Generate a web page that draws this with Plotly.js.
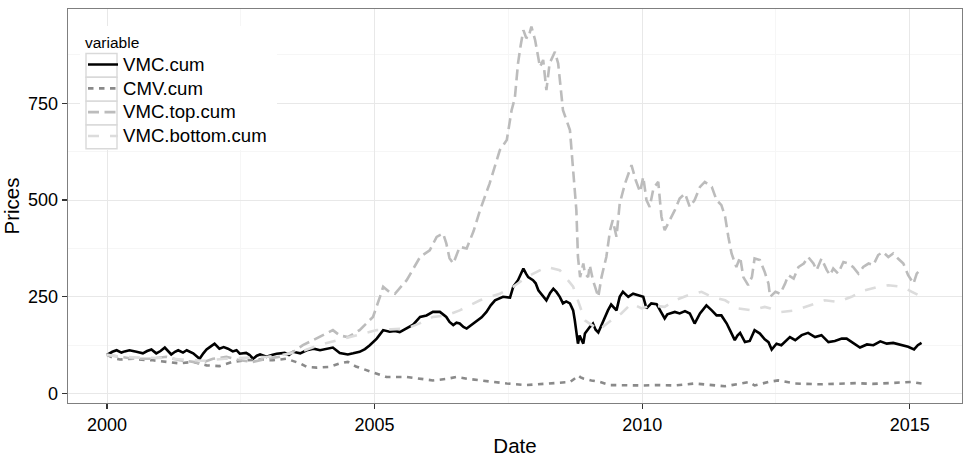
<!DOCTYPE html>
<html>
<head>
<meta charset="utf-8">
<script src="https://cdn.plot.ly/plotly-3.0.1.min.js"></script>
<style>html,body{margin:0;padding:0;background:#fff;}#chart{width:963px;height:457px;}</style>
</head>
<body>
<div id="chart"></div>
<script>
// ---- data (decimal years, cumulative price index) ----
const seriesNames = ["VMC.cum", "CMV.cum", "VMC.top.cum", "VMC.bottom.cum"];
const xTickVals = [2000, 2005, 2010, 2015];
const yTickVals = [0, 250, 500, 750];

const vmcYears = [2000.00,2000.10,2000.18,2000.27,2000.33,2000.42,2000.55,2000.67,2000.75,2000.83,2000.92,2001.00,2001.08,2001.20,2001.27,2001.33,2001.42,2001.49,2001.61,2001.73,2001.80,2001.86,2001.94,2002.01,2002.10,2002.18,2002.26,2002.35,2002.42,2002.48,2002.60,2002.66,2002.73,2002.80,2002.86,2002.98,2003.08,2003.17,2003.32,2003.40,2003.48,2003.61,2003.73,2003.86,2003.98,2004.10,2004.22,2004.35,2004.50,2004.60,2004.72,2004.82,2004.91,2005.04,2005.16,2005.28,2005.38,2005.47,2005.60,2005.72,2005.85,2005.97,2006.09,2006.22,2006.34,2006.40,2006.47,2006.53,2006.59,2006.66,2006.72,2006.80,2006.90,2007.00,2007.09,2007.17,2007.25,2007.33,2007.40,2007.53,2007.59,2007.68,2007.74,2007.78,2007.83,2007.87,2007.96,2008.01,2008.06,2008.15,2008.21,2008.28,2008.34,2008.40,2008.46,2008.52,2008.58,2008.65,2008.71,2008.74,2008.77,2008.80,2008.83,2008.86,2008.90,2008.93,2008.99,2009.02,2009.08,2009.13,2009.18,2009.23,2009.27,2009.36,2009.42,2009.47,2009.52,2009.58,2009.64,2009.70,2009.74,2009.83,2009.93,2010.02,2010.08,2010.17,2010.27,2010.33,2010.42,2010.47,2010.52,2010.61,2010.70,2010.80,2010.89,2010.98,2011.08,2011.20,2011.30,2011.39,2011.48,2011.58,2011.64,2011.73,2011.78,2011.83,2011.92,2012.01,2012.10,2012.20,2012.29,2012.36,2012.42,2012.51,2012.60,2012.70,2012.76,2012.86,2012.98,2013.10,2013.23,2013.35,2013.48,2013.60,2013.73,2013.82,2013.94,2014.07,2014.20,2014.32,2014.45,2014.57,2014.69,2014.85,2014.97,2015.08,2015.15,2015.22];
const vmcCum = [100,108,112,106,109,112,108,104,110,114,104,110,119,101,108,112,106,112,104,90,104,114,122,129,116,120,116,109,112,103,105,100,90,98,101,95,100,103,105,100,108,104,112,116,112,116,119,105,101,104,108,115,125,142,164,160,162,159,168,178,198,202,211,211,198,185,177,183,181,172,168,176,185,197,211,228,241,246,250,248,276,293,310,323,310,301,293,285,267,250,241,260,271,262,250,233,238,233,215,190,164,129,150,142,129,155,168,172,181,165,158,175,189,215,230,222,215,250,263,255,250,258,254,250,220,233,231,215,194,205,207,211,207,213,207,181,207,228,215,202,202,181,164,138,150,157,133,136,164,155,140,133,114,129,125,138,146,138,151,157,146,151,133,136,142,142,131,119,127,125,135,129,131,125,121,114,125,131];

const cmvYears = [2000.00,2000.12,2000.24,2000.49,2000.70,2000.86,2001.11,2001.36,2001.61,2001.86,2002.10,2002.35,2002.60,2002.86,2003.10,2003.35,2003.61,2003.73,2003.92,2004.16,2004.35,2004.50,2004.65,2004.85,2005.05,2005.22,2005.60,2005.85,2006.09,2006.35,2006.53,2006.75,2006.97,2007.20,2007.47,2007.84,2008.10,2008.34,2008.65,2008.75,2008.80,2008.85,2008.90,2009.05,2009.21,2009.40,2009.70,2010.00,2010.30,2010.60,2010.98,2011.30,2011.55,2011.80,2012.00,2012.10,2012.36,2012.54,2012.86,2013.35,2013.70,2014.00,2014.30,2014.60,2014.85,2015.04,2015.22];
const cmvCum = [100,92,88,90,87,86,82,78,82,73,71,82,86,88,86,90,78,69,67,69,78,82,70,60,50,43,43,38,34,38,43,38,34,30,26,22,24,26,30,40,47,42,39,34,30,22,21,21,22,21,26,22,19,25,30,21,30,34,26,24,26,27,25,27,28,30,26];

const topYears = [2000.00,2000.24,2000.49,2000.80,2001.11,2001.36,2001.61,2001.73,2001.98,2002.23,2002.48,2002.73,2002.98,2003.23,2003.48,2003.66,2003.85,2004.04,2004.22,2004.35,2004.50,2004.72,2004.97,2005.10,2005.16,2005.28,2005.38,2005.60,2005.85,2006.03,2006.16,2006.28,2006.34,2006.40,2006.47,2006.59,2006.72,2006.85,2006.97,2007.15,2007.34,2007.47,2007.56,2007.62,2007.68,2007.73,2007.78,2007.83,2007.87,2007.93,2008.00,2008.09,2008.15,2008.21,2008.27,2008.37,2008.43,2008.52,2008.65,2008.71,2008.77,2008.80,2008.84,2008.90,2008.93,2008.99,2009.02,2009.08,2009.18,2009.24,2009.33,2009.40,2009.45,2009.52,2009.58,2009.68,2009.74,2009.80,2009.88,2009.96,2010.02,2010.08,2010.14,2010.21,2010.30,2010.36,2010.42,2010.52,2010.61,2010.70,2010.80,2010.89,2010.98,2011.08,2011.17,2011.30,2011.39,2011.48,2011.55,2011.61,2011.67,2011.76,2011.83,2011.89,2011.98,2012.05,2012.10,2012.20,2012.29,2012.36,2012.39,2012.49,2012.58,2012.67,2012.73,2012.83,2012.92,2013.02,2013.10,2013.20,2013.26,2013.35,2013.45,2013.51,2013.57,2013.66,2013.76,2013.85,2013.94,2014.04,2014.13,2014.23,2014.32,2014.41,2014.50,2014.60,2014.69,2014.78,2014.88,2014.97,2015.07,2015.13,2015.22];
const topCum = [100,95,90,90,95,86,82,78,90,95,86,82,90,95,108,125,138,151,164,150,146,164,198,250,276,262,258,293,353,370,405,414,388,350,336,379,375,420,474,543,629,655,732,763,853,900,939,920,918,948,913,844,862,784,853,883,853,732,681,577,474,353,301,336,310,301,332,293,250,301,353,422,448,405,491,543,569,590,551,521,560,500,482,530,547,457,422,448,474,504,517,482,500,534,547,534,500,487,457,405,362,327,353,301,280,301,349,345,314,284,250,263,258,284,306,297,327,336,353,336,319,349,319,306,323,310,340,336,327,310,327,336,332,358,366,353,362,349,336,306,284,310,323];

const bottomYears = [2000.00,2000.30,2000.60,2001.00,2001.40,2001.80,2002.20,2002.60,2003.00,2003.40,2003.70,2004.00,2004.35,2004.72,2005.04,2005.30,2005.60,2005.85,2006.09,2006.34,2006.59,2006.97,2007.34,2007.59,2007.84,2008.21,2008.46,2008.71,2008.84,2008.93,2009.08,2009.18,2009.42,2009.61,2009.80,2009.99,2010.17,2010.42,2010.61,2010.86,2011.11,2011.30,2011.55,2011.80,2012.05,2012.29,2012.40,2012.60,2012.86,2013.10,2013.41,2013.66,2013.91,2014.16,2014.41,2014.60,2014.85,2015.04,2015.22];
const bottomCum = [100,95,93,92,88,85,90,92,95,103,112,127,140,153,164,166,168,182,198,202,215,241,258,276,301,327,319,276,224,189,175,163,189,207,233,220,228,224,241,254,263,250,241,220,215,224,220,211,215,226,241,237,250,267,276,280,276,263,250];

// ---- styling ----
const FONT = "Liberation Sans, Arial, Helvetica, sans-serif";
const styles = [
  {color: "#000000", dash: "solid"},
  {color: "#8a8a8a", dash: "5.5px,5.5px"},
  {color: "#bcbcbc", dash: "11px,5.5px"},
  {color: "#dcdcdc", dash: "11px,11px"}
];
const xs = [vmcYears, cmvYears, topYears, bottomYears];
const ys = [vmcCum, cmvCum, topCum, bottomCum];

const traces = seriesNames.map((n, i) => ({
  type: "scatter", mode: "lines",
  name: '<span style="font-size:18.6px">' + n + '</span>',
  x: xs[i], y: ys[i],
  line: {color: styles[i].color, width: 2.6, dash: styles[i].dash}
}));

const W = 963, H = 457;
const M = {l: 68, r: 1, t: 9, b: 54};
const PW = W - M.l - M.r, PH = H - M.t - M.b;
const px2x = p => (p - M.l) / PW;
const px2y = p => 1 - (p - M.t) / PH;

// legend background + ggplot-style key frames
const legendBg = {
  type: "rect", xref: "paper", yref: "paper", layer: "above",
  x0: px2x(80), x1: px2x(277), y0: px2y(26), y1: px2y(150),
  line: {width: 0}, fillcolor: "#ffffff"
};
const KEY_TOP = 53.5, KEY_H = 23.8;
const keyShapes = [0, 1, 2, 3].map(i => ({
  type: "rect", xref: "paper", yref: "paper", layer: "above",
  x0: px2x(86), x1: px2x(117),
  y0: px2y(KEY_TOP + KEY_H * i), y1: px2y(KEY_TOP + KEY_H * (i + 1)),
  line: {color: "#d9d9d9", width: 1.4}, fillcolor: "rgba(0,0,0,0)"
}));

const layout = {
  width: W, height: H,
  margin: M,
  paper_bgcolor: "#ffffff", plot_bgcolor: "#ffffff",
  font: {family: FONT, color: "#000"},
  showlegend: true,
  legend: {
    x: px2x(83), y: px2y(27.5),
    xanchor: "left", yanchor: "top",
    bgcolor: "rgba(0,0,0,0)", borderwidth: 0,
    font: {family: FONT, size: 16, color: "#000"},
    title: {text: "variable", font: {family: FONT, size: 15.5, color: "#000"}},
    itemwidth: 30, tracegroupgap: 0
  },
  shapes: [legendBg].concat(keyShapes),
  xaxis: {
    type: "linear",
    range: [1999.271, 2015.976],
    tickmode: "array", tickvals: xTickVals, ticktext: xTickVals.map(String),
    ticks: "outside", ticklen: 5, tickwidth: 1.3, tickcolor: "#333",
    tickfont: {family: FONT, size: 18, color: "#000"},
    showgrid: true, gridcolor: "#e8e8e8", gridwidth: 1,
    minor: {tickmode: "array", tickvals: [2002.5, 2007.5, 2012.5], showgrid: true, gridcolor: "#f6f6f6", gridwidth: 1, ticks: ""},
    zeroline: false,
    showline: true, mirror: true, linecolor: "#7f7f7f", linewidth: 1.3,
    title: {text: "Date", font: {family: FONT, size: 20.5, color: "#000"}, standoff: 9}
  },
  yaxis: {
    range: [-24.3, 993.6],
    tickmode: "array", tickvals: yTickVals, ticktext: yTickVals.map(String),
    ticks: "outside", ticklen: 5, tickwidth: 1.3, tickcolor: "#333",
    tickfont: {family: FONT, size: 18, color: "#000"},
    showgrid: true, gridcolor: "#e8e8e8", gridwidth: 1,
    minor: {tickmode: "array", tickvals: [125, 375, 625, 875], showgrid: true, gridcolor: "#f6f6f6", gridwidth: 1, ticks: ""},
    zeroline: false,
    showline: true, mirror: true, linecolor: "#7f7f7f", linewidth: 1.3,
    title: {text: "Prices", font: {family: FONT, size: 20.5, color: "#000"}, standoff: 5}
  }
};

Plotly.newPlot("chart", traces, layout, {displayModeBar: false, staticPlot: true});
</script>
</body>
</html>
